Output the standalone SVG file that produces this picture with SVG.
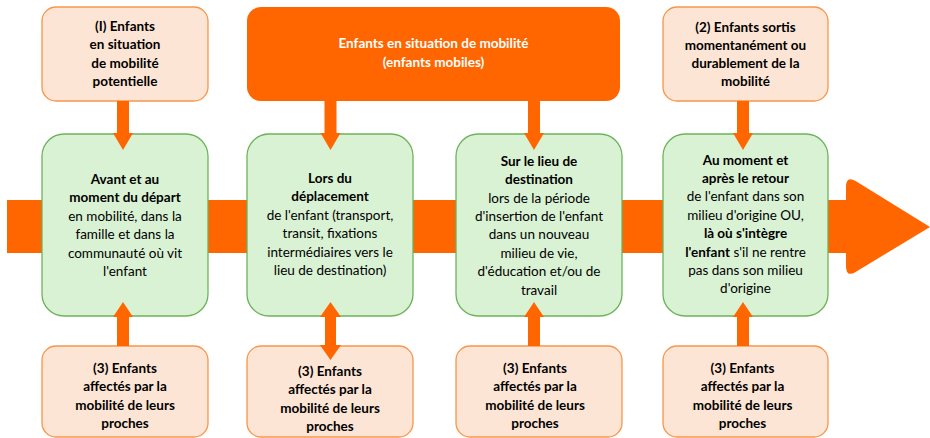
<svg xmlns="http://www.w3.org/2000/svg" width="930" height="438" viewBox="0 0 930 438">
<style>
.peach{fill:#fde5d5;stroke:#f7964a;stroke-width:1.3}
.green{fill:#d9f2d4;stroke:#6db35a;stroke-width:1.3}
.big{fill:#ff6600}
text{font-family:Lato,"Liberation Sans",sans-serif;font-size:13.5px;fill:#000;text-anchor:middle}
.b{font-weight:bold}
.w{fill:#fff;font-weight:bold}
.arr{fill:#ff6600}
</style>
<g id="band">
<rect x="7" y="200" width="845" height="53" class="arr"/>
<path class="arr" d="M846,187 Q846,175 856,181.3 L930,227 L856,271.7 Q846,278 846,266 Z"/>
</g>
<g id="top1"><rect class="peach" x="42" y="7" width="166" height="94" rx="14"/>
<text class="b" x="125" y="30.5">(I) Enfants</text>
<text class="b" x="125" y="49">en situation</text>
<text class="b" x="125" y="67.5">de mobilité</text>
<text class="b" x="125" y="86">potentielle</text></g>
<g id="topbig"><rect class="big" x="247" y="7" width="373" height="94" rx="14"/>
<text class="w" x="433.5" y="47.5">Enfants en situation de mobilité</text>
<text class="w" x="433.5" y="66.5">(enfants mobiles)</text></g>
<g id="top2"><rect class="peach" x="663" y="7" width="165" height="94" rx="14"/>
<text class="b" x="745.5" y="31.5">(2) Enfants sortis</text>
<text class="b" x="745.5" y="49.5">momentanément ou</text>
<text class="b" x="745.5" y="67.5">durablement de la</text>
<text class="b" x="745.5" y="86">mobilité</text></g>
<g id="g1"><rect class="green" x="42" y="134" width="166" height="182" rx="22"/>
<text class="b" x="125" y="183.5">Avant et au</text>
<text class="b" x="125" y="202">moment du départ</text>
<text x="125" y="220.5">en mobilité, dans la</text>
<text x="125" y="239">famille et dans la</text>
<text x="125" y="257.5">communauté où vit</text>
<text x="125" y="276">l'enfant</text></g>
<g id="g2"><rect class="green" x="247" y="134" width="166" height="182" rx="22"/>
<text class="b" x="330" y="182.5">Lors du</text>
<text class="b" x="330" y="201">déplacement</text>
<text x="330" y="219.5">de l'enfant (transport,</text>
<text x="330" y="238">transit, fixations</text>
<text x="330" y="256.5">intermédiaires vers le</text>
<text x="330" y="275">lieu de destination)</text></g>
<g id="g3"><rect class="green" x="456" y="134" width="166" height="182" rx="22"/>
<text class="b" x="539" y="166">Sur le lieu de</text>
<text class="b" x="539" y="184.4">destination</text>
<text x="539" y="202.7">lors de la période</text>
<text x="539" y="221">d'insertion de l'enfant</text>
<text x="539" y="239.4">dans un nouveau</text>
<text x="539" y="257.8">milieu de vie,</text>
<text x="539" y="276.1">d'éducation et/ou de</text>
<text x="539" y="294.5">travail</text></g>
<g id="g4"><rect class="green" x="663" y="134" width="165" height="182" rx="22"/>
<text class="b" x="745.5" y="164.5">Au moment et</text>
<text class="b" x="745.5" y="182.9">après le retour</text>
<text x="745.5" y="201.3">de l'enfant dans son</text>
<text x="745.5" y="219.7">milieu d'origine OU,</text>
<text class="b" x="745.5" y="238.1">là où s'intègre</text>
<text x="745.5" y="256.5"><tspan class="b">l'enfant</tspan> s'il ne rentre</text>
<text x="745.5" y="274.9">pas dans son milieu</text>
<text x="745.5" y="293.3">d'origine</text></g>
<g id="bot1"><rect class="peach" x="42" y="346" width="166" height="91" rx="14"/>
<text class="b" x="125" y="372.5">(3) Enfants</text>
<text class="b" x="125" y="391">affectés par la</text>
<text class="b" x="125" y="409.5">mobilité de leurs</text>
<text class="b" x="125" y="428">proches</text></g>
<g id="bot2"><rect class="peach" x="247" y="346" width="166" height="91" rx="14"/>
<text class="b" x="330" y="375.5">(3) Enfants</text>
<text class="b" x="330" y="394">affectés par la</text>
<text class="b" x="330" y="412.5">mobilité de leurs</text>
<text class="b" x="330" y="431">proches</text></g>
<g id="bot3"><rect class="peach" x="456" y="346" width="166" height="91" rx="14"/>
<text class="b" x="535" y="372.5">(3) Enfants</text>
<text class="b" x="535" y="391">affectés par la</text>
<text class="b" x="535" y="409.5">mobilité de leurs</text>
<text class="b" x="535" y="428">proches</text></g>
<g id="bot4"><rect class="peach" x="663" y="346" width="165" height="91" rx="14"/>
<text class="b" x="742.5" y="372.5">(3) Enfants</text>
<text class="b" x="742.5" y="391">affectés par la</text>
<text class="b" x="742.5" y="409.5">mobilité de leurs</text>
<text class="b" x="742.5" y="428">proches</text></g>
<g id="connectors" class="arr">
<path d="M117,101 H129 V133 H133 L123,150 L113,133 H117 Z"/>
<path d="M324.5,101 H336.5 V133 H340.5 L330.5,150 L320.5,133 H324.5 Z"/>
<path d="M528,101 H540 V133 H544 L534,150 L524,133 H528 Z"/>
<path d="M737,101 H749 V133 H753 L743,150 L733,133 H737 Z"/>
<path d="M117,346 H129 V317 H133 L123,302 L113,317 H117 Z"/>
<path d="M325,330 V317 H320 L330.5,302 L341,317 H336 V345 H341 L330.5,360 L320,345 H325 Z"/>
<path d="M528,346 H540 V317 H544 L534,302 L524,317 H528 Z"/>
<path d="M737,346 H749 V317 H753 L743,302 L733,317 H737 Z"/>
</g>
</svg>
